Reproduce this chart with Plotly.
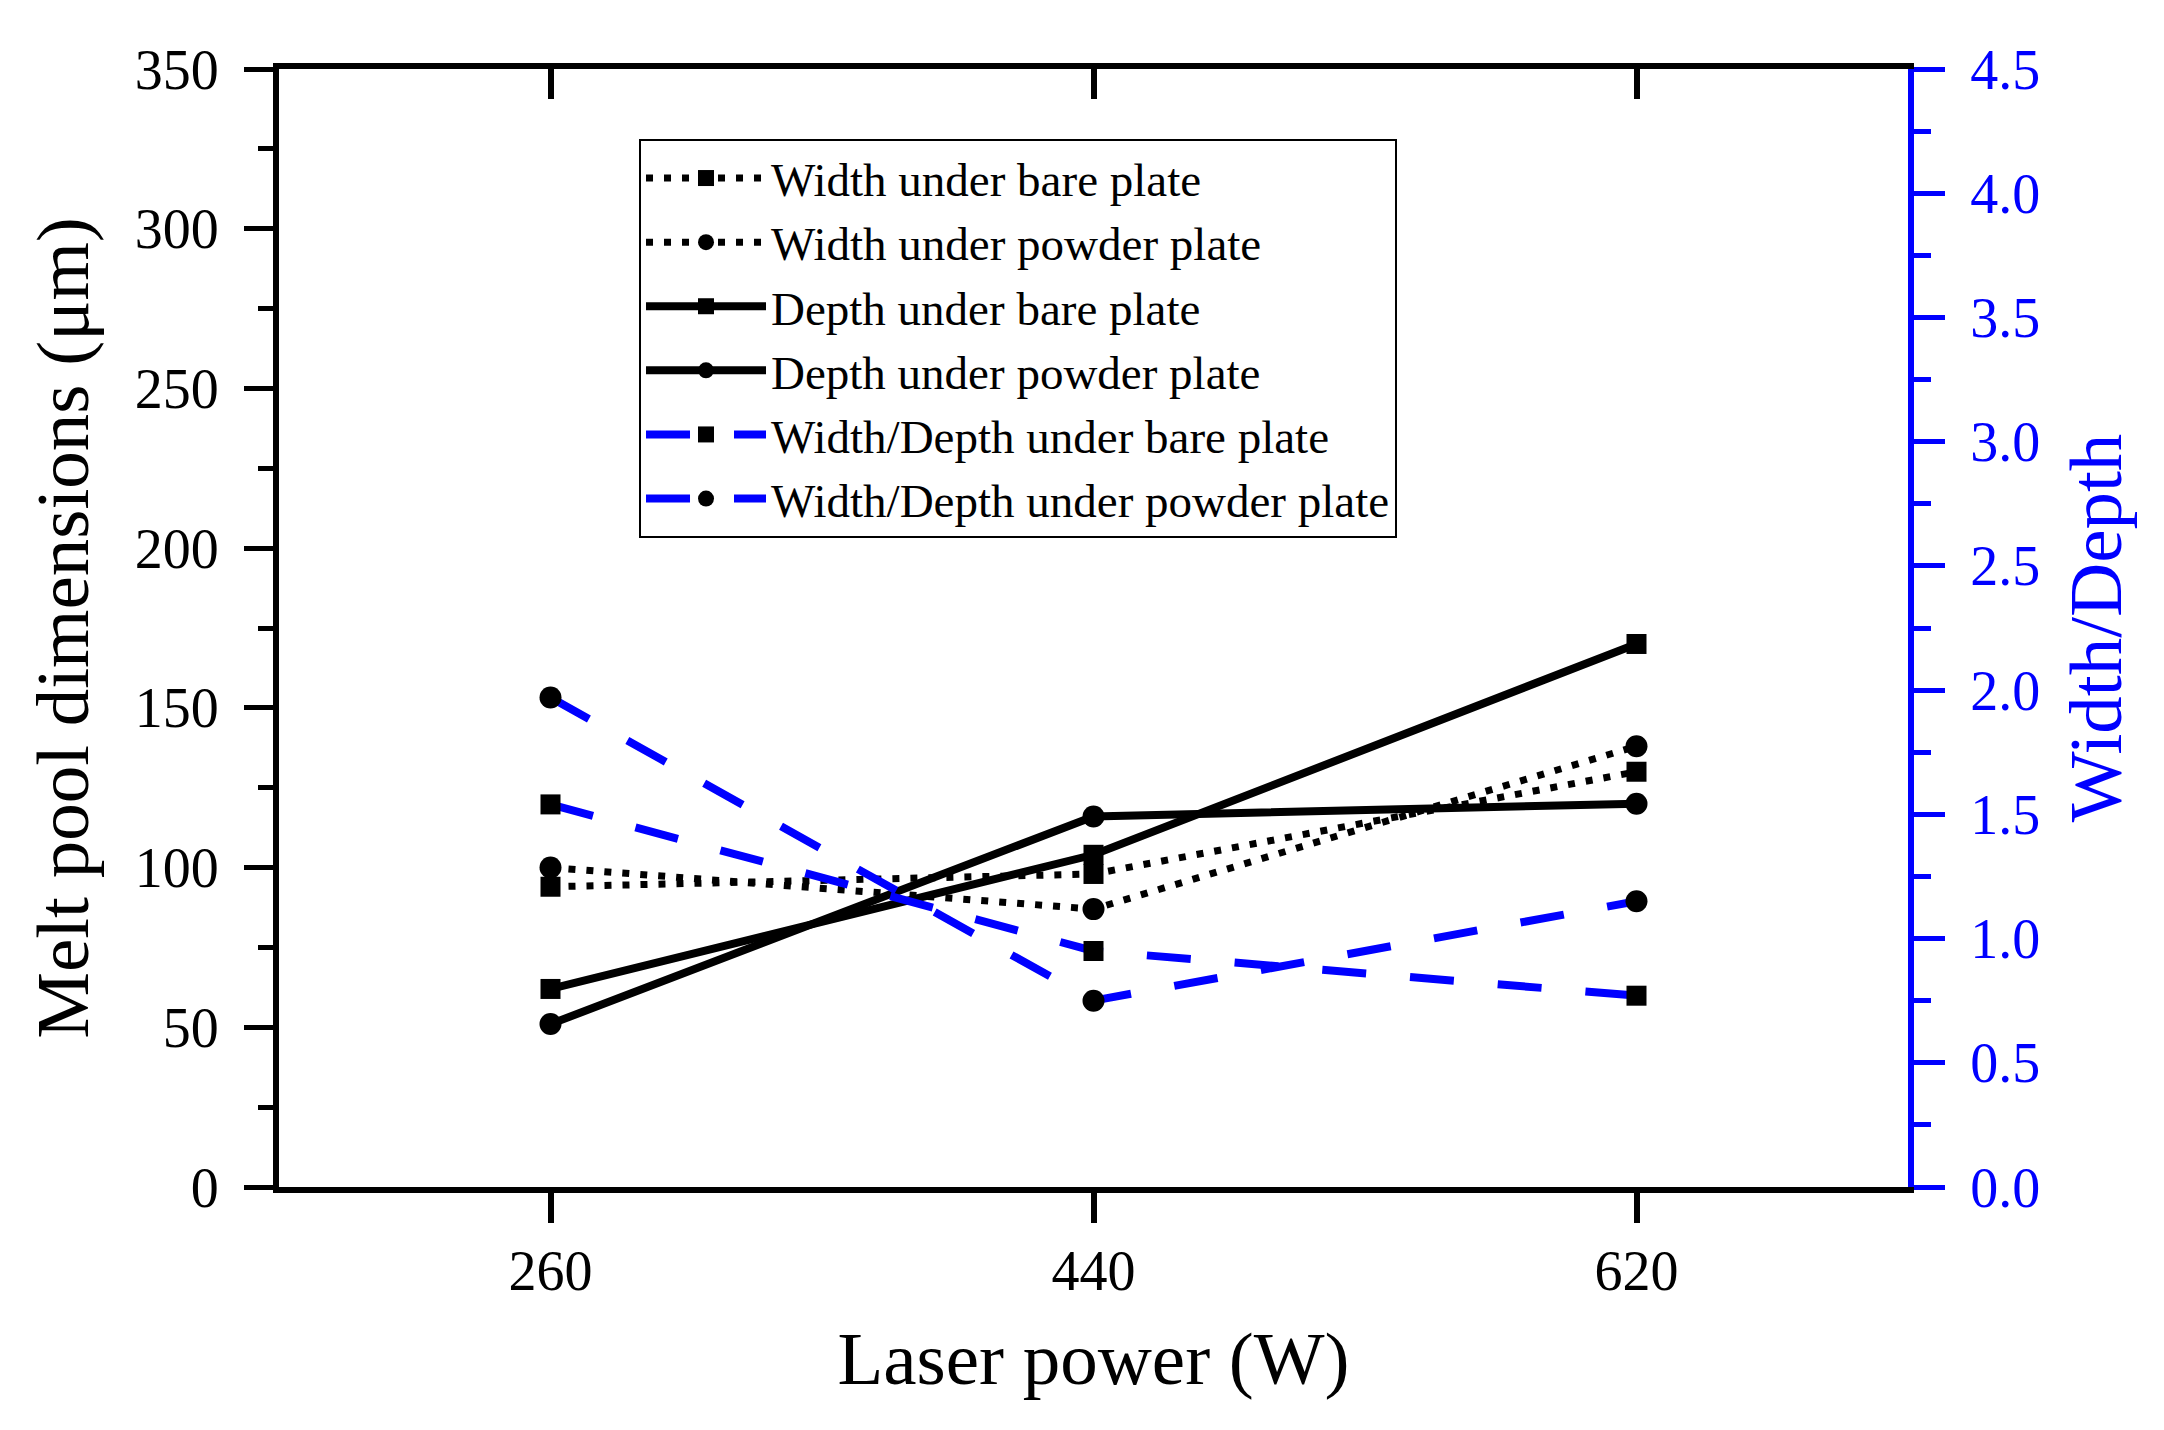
import plotly.graph_objects as go

# ---- data ----
laser_power = [260, 440, 620]
width_bare = [94, 98, 130]
width_powder = [100, 87, 138]
depth_bare = [62, 104, 170]
depth_powder = [51, 116, 120]
ratio_bare = [1.54, 0.95, 0.77]
ratio_powder = [1.97, 0.75, 1.15]

series_names = [
    "Width under bare plate",
    "Width under powder plate",
    "Depth under bare plate",
    "Depth under powder plate",
    "Width/Depth under bare plate",
    "Width/Depth under powder plate",
]
left_ticks = [0, 50, 100, 150, 200, 250, 300, 350]
right_ticks = [0.0, 0.5, 1.0, 1.5, 2.0, 2.5, 3.0, 3.5, 4.0, 4.5]

FONT = "Times New Roman, Liberation Serif, serif"
BLUE = "#0000FF"
BLACK = "#000000"

fig = go.Figure()

def add(y, name, dash, width, color, symbol, size, yaxis="y"):
    fig.add_trace(go.Scatter(
        x=laser_power, y=y, name=name, mode="lines+markers", yaxis=yaxis,
        line=dict(color=color, width=width, dash=dash),
        marker=dict(color=BLACK, symbol=symbol, size=size, line=dict(width=0)),
    ))

add(width_bare, series_names[0], "7px,11px", 7, BLACK, "square", 20)
add(width_powder, series_names[1], "7px,11px", 7, BLACK, "circle", 22)
add(depth_bare, series_names[2], "solid", 8, BLACK, "square", 20)
add(depth_powder, series_names[3], "solid", 8, BLACK, "circle", 22)
add(ratio_bare, series_names[4], "44px,44px", 8, BLUE, "square", 20, "y2")
add(ratio_powder, series_names[5], "44px,44px", 8, BLUE, "circle", 22, "y2")

# dummy trace for top axis (inward ticks)
fig.add_trace(go.Scatter(x=[], y=[], xaxis="x2", yaxis="y", showlegend=False, hoverinfo="skip"))

fig.update_layout(
    width=2164, height=1430,
    margin=dict(l=271, r=264, t=61, b=251),
    paper_bgcolor="white", plot_bgcolor="white",
    font=dict(family=FONT, color=BLACK, size=56),
    showlegend=True,
    legend=dict(
        x=0.221, y=0.9374, xanchor="left", yanchor="top",
        bgcolor="white", bordercolor=BLACK, borderwidth=2,
        font=dict(family=FONT, size=47, color=BLACK),
        itemwidth=120, tracegroupgap=0,
    ),
    xaxis=dict(
        range=[170, 710], tickvals=laser_power, ticktext=[str(v) for v in laser_power],
        showgrid=False, zeroline=False,
        showline=True, linecolor=BLACK, linewidth=6,
        ticks="outside", ticklen=30, tickwidth=6, tickcolor=BLACK,
        tickfont=dict(family=FONT, size=56, color=BLACK),
        title=dict(text="Laser power (W)", font=dict(family=FONT, size=75, color=BLACK), standoff=32),
    ),
    xaxis2=dict(
        range=[170, 710], tickvals=laser_power, overlaying="x", side="top", anchor="y",
        showgrid=False, zeroline=False, showticklabels=False,
        showline=True, linecolor=BLACK, linewidth=6,
        ticks="inside", ticklen=30, tickwidth=6, tickcolor=BLACK,
    ),
    yaxis=dict(
        range=[0, 350], tickvals=left_ticks,
        showgrid=False, zeroline=False,
        showline=True, linecolor=BLACK, linewidth=6,
        ticks="outside", ticklen=29, tickwidth=5, tickcolor=BLACK,
        ticklabelstandoff=14,
        minor=dict(dtick=25, ticks="outside", ticklen=15, tickwidth=5, tickcolor=BLACK),
        tickfont=dict(family=FONT, size=56, color=BLACK),
        title=dict(text="Melt pool dimensions (μm)", font=dict(family=FONT, size=75, color=BLACK), standoff=24),
    ),
    yaxis2=dict(
        range=[0, 4.5], tickvals=right_ticks, tickformat=".1f",
        overlaying="y", side="right", anchor="x",
        showgrid=False, zeroline=False,
        showline=True, linecolor=BLUE, linewidth=6,
        ticks="outside", ticklen=31, tickwidth=5, tickcolor=BLUE,
        ticklabelstandoff=14,
        minor=dict(dtick=0.25, ticks="outside", ticklen=17, tickwidth=5, tickcolor=BLUE),
        tickfont=dict(family=FONT, size=56, color=BLUE),
        title=dict(text="Width/Depth", font=dict(family=FONT, size=75, color=BLUE), standoff=31),
    ),
)

fig.write_html("out.html")
